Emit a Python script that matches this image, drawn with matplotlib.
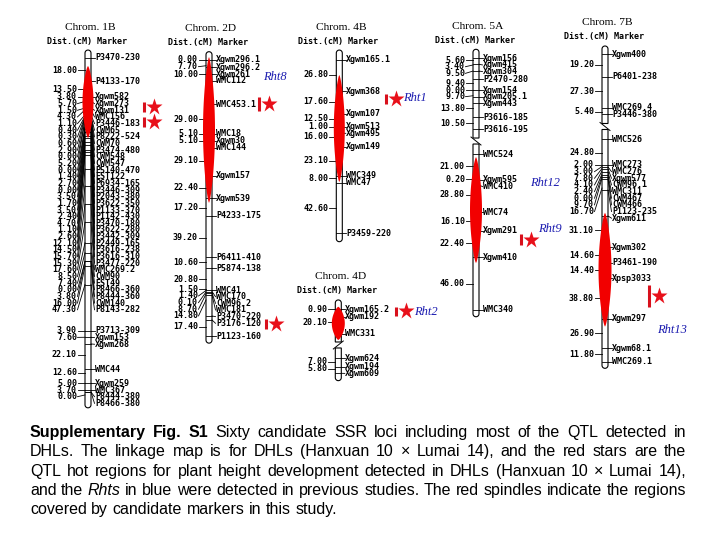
import numpy as np
import matplotlib
matplotlib.use("Agg")
import matplotlib.pyplot as plt
from matplotlib.patches import Polygon

PX_PER_CM = 1.17
ROW_GAP = 6.65

# ---------------- data (positions in cM from the first marker) ----------------
# Chrom. 1B
c1b_dense_cm = [33.3, 37.1, 42.8, 44.3, 48.6, 49.7, 50.1, 50.4, 51.0, 53.9, 53.9,
                59.1, 59.1, 60.5, 63.2, 63.2, 66.7, 68.4, 71.9, 74.3, 79.0, 80.1,
                82.7, 94.8, 109.3, 125.0, 140.3, 157.9, 166.4, 173.8, 173.8, 177.6, 193.6]
c1b_markers = ["P3470-230", "P4133-170", "Xgwm582", "Xgwm273", "Xgwm131", "WMC156",
               "P3446-183", "CWM65", "P8222-524", "CWM70", "P3474-480", "CWM548",
               "CWM547", "P5140-470", "EST122", "P6934-165", "P3446-309", "P2043-380",
               "P3622-350", "P1133-370", "P1142-430", "P3470-180", "P3622-280",
               "P3442-309", "P2449-165", "P3616-238", "P3616-310", "P3477-220",
               "WMC269.2", "CWM90", "EST49", "P8466-360", "P8444-360", "CWM140",
               "P8143-282", "P3713-309", "Xgwm153", "Xgwm268", "WMC44", "Xgwm259",
               "WMC367", "P8444-380", "P8466-380"]
c1b_cm = [0, 19.7] + c1b_dense_cm + [233.3, 238.7, 244.4, 266.1, 278.0, 283.8, 285.5, 285.5]
c1b_dist = ["18.00", "13.50", "3.80", "5.70", "1.50", "4.30", "1.10", "0.40", "0.30",
            "0.60", "2.90", "0.00", "5.20", "0.00", "1.40", "2.70", "0.00", "3.50",
            "1.70", "3.50", "2.40", "4.70", "1.10", "2.60", "12.10", "14.50", "15.70",
            "15.30", "17.60", "8.50", "7.40", "0.00", "3.80", "16.00", "47.30", "3.90",
            "7.60", "22.10", "12.60", "5.00", "3.70", "0.00"]
c1b_dist_cm = [10.3, 26.5] + c1b_dense_cm + [233.1, 238.7, 253.8, 269.0, 278.0, 283.8, 288.0]
c1b_ends = (-6.8, 299.0)
c1b_red = (6.8, 68.4)
c1b_qtl = [(37.4, 45.9), (50.7, 59.3)]

# Chrom. 2D
c2d_markers = ["Xgwm296.1", "Xgwm296.2", "Xgwm261", "WMC112", "WMC453.1", "WMC18",
               "Xgwm30", "WMC144", "Xgwm157", "Xgwm539", "P4233-175", "P6411-410",
               "P5874-138", "WMC41", "WMC170", "CWM96.2", "WMC181", "P3470-220",
               "P3176-120", "P1123-160"]
c2d_cm = [0, 6.2, 12.0, 17.9, 37.9, 63.2, 69.2, 75.0, 98.9, 118.2, 133.3, 168.6,
          178.0, 196.6, 197.9, 199.1, 200.9, 218.8, 222.2, 235.9]
c2d_dist = ["0.00", "7.70", "10.00", "29.00", "5.10", "5.10", "29.10", "22.40", "17.20",
            "39.20", "10.60", "20.80", "1.50", "1.40", "0.10", "8.70", "14.80", "17.40"]
c2d_dist_cm = [0, 4.9, 12.0, 50.7, 63.2, 68.9, 86.1, 109.1, 126.2, 151.9, 172.9,
               187.4, 196.0, 197.0, 198.3, 200.0, 205.1, 228.0]
c2d_ends = (-7.1, 242.0)
c2d_red = (-2.6, 122.2)
c2d_qtl = [(31.6, 43.6), (221.4, 229.9)]

# Chrom. 4B
c4b_markers = ["Xgwm165.1", "Xgwm368", "Xgwm107", "Xgwm513", "Xgwm495", "Xgwm149",
               "WMC349", "WMC47", "P3459-220"]
c4b_cm = [0, 26.5, 45.9, 57.0, 62.6, 74.1, 99.1, 104.9, 148.1]
c4b_dist = ["26.80", "17.60", "12.50", "1.00", "16.00", "23.10", "8.00", "42.60"]
c4b_dist_cm = [12.8, 35.6, 50.4, 57.0, 65.6, 86.1, 101.1, 126.8]
c4b_ends = (-8.5, 155.3)
c4b_red = (12.8, 104.3)
c4b_qtl = [(29.1, 37.6)]

# Chrom. 4D
c4d_markers = ["Xgwm165.2", "Xgwm192", "WMC331", "Xgwm624", "Xgwm194", "Xgwm609"]
c4d_cm = [0, 6.3, 21.1, 41.9, 49.1, 54.7]
c4d_dist = ["0.90", "20.10", "7.00", "5.80"]
c4d_dist_cm = [0, 11.1, 44.8, 51.0]
c4d_ends = (-8.0, 61.0)
c4d_red = (-2.2, 26.2)
c4d_qtl = [(-2.0, 5.7)]
c4d_break = 30.5

# Chrom. 5A
c5a_markers = ["Xgwm156", "Xgwm415", "Xgwm304", "P2470-280", "Xgwm154", "Xgwm205.1",
               "Xgwm443", "P3616-185", "P3616-195", "WMC524", "Xgwm595", "WMC410",
               "WMC74", "Xgwm291", "Xgwm410", "WMC340"]
c5a_cm = [0, 5.1, 10.9, 17.9, 27.1, 32.8, 38.5, 50.4, 60.7, 82.1, 104.0, 108.3,
          131.6, 147.4, 170.1, 215.1]
c5a_dist = ["5.60", "3.40", "9.50", "9.40", "0.00", "9.70", "13.80", "10.50", "21.00",
            "0.20", "28.80", "16.10", "22.40", "46.00"]
c5a_dist_cm = [1.5, 5.7, 10.9, 21.4, 27.1, 32.0, 42.7, 55.6, 92.1, 103.4, 116.8,
               139.1, 158.1, 192.9]
c5a_ends = (-7.7, 220.9)
c5a_red = (84.4, 175.0)
c5a_qtl = [(150.2, 159.6)]
c5a_break = 70.7

# Chrom. 7B
c7b_markers = ["Xgwm400", "P6401-238", "WMC269.4", "P3446-380", "WMC526", "WMC273",
               "WMC276", "Xgwm577", "CWM96.1", "WMC311", "CWM467", "CWM466",
               "P1123-235", "Xgwm611", "Xgwm302", "P3461-190", "Xpsp3033", "Xgwm297",
               "Xgwm68.1", "WMC269.1"]
c7b_cm = [0, 19.1, 45.6, 51.3, 72.4, 94.6, 96.3, 98.0, 100.6, 103.2, 104.9, 106.6,
          116.0, 138.2, 165.0, 178.1, 191.5, 226.2, 251.3, 262.7]
c7b_dist = ["19.20", "27.30", "5.40", "24.80", "2.00", "3.00", "7.80", "4.10", "2.40",
            "0.00", "9.70", "16.70", "31.10", "14.60", "14.40", "38.80", "26.90", "11.80"]
c7b_dist_cm = [9.1, 31.4, 49.1, 84.1, 94.6, 95.9, 97.6, 99.7, 102.3, 104.0, 105.7,
               114.3, 150.2, 171.6, 184.4, 208.6, 238.5, 256.5]
c7b_ends = (-7.1, 268.4)
c7b_red = (135.4, 232.8)
c7b_qtl = [(197.2, 216.2)]
c7b_break = 61.7

# previously reported Rht genes
rht_names = ["Rht8", "Rht1", "Rht12", "Rht9", "Rht2", "Rht13"]
rht_chrom = ["2D", "4B", "5A", "5A", "4D", "7B"]
rht_cm = [14.5, 32.5, 106.6, 146.3, 2.3, 235.6]

caption = [
    [("Supplementary Fig. S1", "bold", "normal"),
     ("Sixty candidate SSR loci including most of the QTL detected in", "normal", "normal")],
    [("DHLs. The linkage map is for DHLs (Hanxuan 10 \u00d7 Lumai 14), and the red stars are the", "normal", "normal")],
    [("QTL hot regions for plant height development detected in DHLs (Hanxuan 10 \u00d7 Lumai 14),", "normal", "normal")],
    [("and the", "normal", "normal"), ("Rhts", "normal", "italic"),
     ("in blue were detected in previous studies. The red spindles indicate the regions", "normal", "normal")],
    [("covered by candidate markers in this study.", "normal", "normal")],
]
caption_justify = [True, True, True, True, False]

# ---------------- layout ----------------
chroms = {
    "1B": dict(x=88, y0=58, markers=c1b_markers, cm=c1b_cm, dist=c1b_dist, dist_cm=c1b_dist_cm,
               ends=c1b_ends, red=c1b_red, red_w=11, qtl=c1b_qtl, qtl_dx=[56, 56], brk=None),
    "2D": dict(x=209, y0=60, markers=c2d_markers, cm=c2d_cm, dist=c2d_dist, dist_cm=c2d_dist_cm,
               ends=c2d_ends, red=c2d_red, red_w=12, qtl=c2d_qtl, qtl_dx=[50, 57], brk=None),
    "4B": dict(x=339.3, y0=60, markers=c4b_markers, cm=c4b_cm, dist=c4b_dist, dist_cm=c4b_dist_cm,
               ends=c4b_ends, red=c4b_red, red_w=11, qtl=c4b_qtl, qtl_dx=[46.4], brk=None),
    "4D": dict(x=338.3, y0=309.3, markers=c4d_markers, cm=c4d_cm, dist=c4d_dist, dist_cm=c4d_dist_cm,
               ends=c4d_ends, red=c4d_red, red_w=13, qtl=c4d_qtl, qtl_dx=[57.7], brk=(c4d_break, 1)),
    "5A": dict(x=476, y0=58.3, markers=c5a_markers, cm=c5a_cm, dist=c5a_dist, dist_cm=c5a_dist_cm,
               ends=c5a_ends, red=c5a_red, red_w=12, qtl=c5a_qtl, qtl_dx=[44.7], brk=(c5a_break, -1)),
    "7B": dict(x=605, y0=54.3, markers=c7b_markers, cm=c7b_cm, dist=c7b_dist, dist_cm=c7b_dist_cm,
               ends=c7b_ends, red=c7b_red, red_w=13, qtl=c7b_qtl, qtl_dx=[44.3], brk=(c7b_break, -1)),
}
rht_dx = [54, 63.7, 54, 62, 75.7, 52]

MONO = dict(family="DejaVu Sans Mono", weight="bold", size=6.0)
RED = "#f20000"
HW = 3.0

fig = plt.figure(figsize=(7.2, 5.4), dpi=100)
ax = fig.add_axes([0, 0, 1, 1])
ax.set_xlim(0, 720)
ax.set_ylim(540, 0)
ax.axis("off")


def push_rows(ys, gap=ROW_GAP):
    rows = []
    for y in ys:
        if rows and y < rows[-1] + gap:
            y = rows[-1] + gap
        rows.append(y)
    return rows


def outline(cx, y1, y2, round_top, round_bot):
    pts = []
    if round_top:
        a = np.linspace(np.pi, 0, 14)
        pts += list(zip(cx + HW * np.cos(a), y1 + HW - HW * np.sin(a)))
    else:
        pts += [(cx - HW, y1), (cx + HW, y1)]
    if round_bot:
        a = np.linspace(0, -np.pi, 14)
        pts += list(zip(cx + HW * np.cos(a), y2 - HW - HW * np.sin(a)))
    else:
        pts += [(cx + HW, y2), (cx - HW, y2)]
    return Polygon(pts, closed=True, fc="white", ec="black", lw=0.8, zorder=2)


def spindle(cx, y1, y2, w):
    t = np.linspace(0, 1, 80)
    hw = w / 2 * np.sin(np.pi * t) ** 0.7
    ys = y1 + (y2 - y1) * t
    pts = list(zip(cx - hw, ys)) + list(zip((cx + hw)[::-1], ys[::-1]))
    return Polygon(pts, closed=True, fc=RED, ec="none", zorder=4)


for name, c in chroms.items():
    cx, y0 = c["x"], c["y0"]
    to_y = lambda p: y0 + np.asarray(p, dtype=float) * PX_PER_CM
    top, bot = to_y(c["ends"])

    ax.text(cx + 2, top - 23, "Chrom. " + name, ha="center", va="center",
            family="Liberation Serif", size=8.2)
    ax.text(cx - 1, top - 9, "Dist.(cM) Marker", ha="center", va="center", **MONO)

    if c["brk"] is None:
        ax.add_patch(outline(cx, top, bot, True, True))
    else:
        yb = to_y(c["brk"][0])
        ax.add_patch(outline(cx, top, yb - 3, True, False))
        ax.add_patch(outline(cx, yb + 3, bot, False, True))
        s = c["brk"][1]
        ax.plot([cx - 5, cx + 5], [yb + 4 * s, yb - 4 * s], color="black", lw=0.7, zorder=3)

    r1, r2 = to_y(c["red"])
    ax.add_patch(spindle(cx, r1, r2, c["red_w"]))

    # markers on the right
    loci = to_y(c["cm"])
    rows = push_rows(loci)
    for lab, ly, ry in zip(c["markers"], loci, rows):
        ax.plot([cx - HW, cx + HW], [ly, ly], color="black", lw=0.6, zorder=3)
        ax.plot([cx + HW, cx + 6.5], [ly, ry], color="black", lw=0.6, zorder=3)
        ax.text(cx + 7, ry, lab, ha="left", va="center", **MONO)

    # distances on the left
    dl = to_y(c["dist_cm"])
    drows = push_rows(dl)
    for lab, ly, ry in zip(c["dist"], dl, drows):
        ax.plot([cx - 10.5, cx - HW], [ry, ly], color="black", lw=0.6, zorder=3)
        ax.text(cx - 11, ry, lab, ha="right", va="center", **MONO)

    # QTL hot regions
    for (q1, q2), dx in zip(c["qtl"], c["qtl_dx"]):
        y1, y2 = to_y([q1, q2])
        ax.plot([cx + dx, cx + dx], [y1, y2], color="#d8101c", lw=2.2, solid_capstyle="butt", zorder=5)
        ax.plot(cx + dx + 10, (y1 + y2) / 2, marker="*", ms=12.5, color="#e8101a", mec="none", zorder=5)

for lab, ch, cm, dx in zip(rht_names, rht_chrom, rht_cm, rht_dx):
    c = chroms[ch]
    ax.text(c["x"] + dx, c["y0"] + cm * PX_PER_CM, lab, ha="left", va="center",
            family="Liberation Serif", style="italic", size=9, color="#1c1cb0")

# caption, justified between x=30 and x=686
renderer = fig.canvas.get_renderer()
inv = ax.transData.inverted()
CAP = dict(family="Liberation Sans", size=11.5)
LEFT, RIGHT = 30, 686
base_y = [437, 456.3, 475.6, 495, 514.3]


def text_width(s, **kw):
    t = ax.text(0, 0, s, **CAP, **kw)
    bb = t.get_window_extent(renderer)
    t.remove()
    x0 = inv.transform((bb.x0, bb.y0))[0]
    x1 = inv.transform((bb.x1, bb.y0))[0]
    return x1 - x0


space_w = text_width("a a") - text_width("aa")
for parts, by, just in zip(caption, base_y, caption_justify):
    words = []
    for txt, w, st in parts:
        for word in txt.split(" "):
            words.append((word, w, st, text_width(word, weight=w, style=st)))
    total = sum(wd[3] for wd in words)
    gap = (RIGHT - LEFT - total) / (len(words) - 1) if just else space_w
    x = LEFT
    for word, w, st, wid in words:
        ax.text(x, by, word, ha="left", va="baseline", weight=w, style=st, **CAP)
        x += wid + gap

fig.savefig("out.png", dpi=100)
